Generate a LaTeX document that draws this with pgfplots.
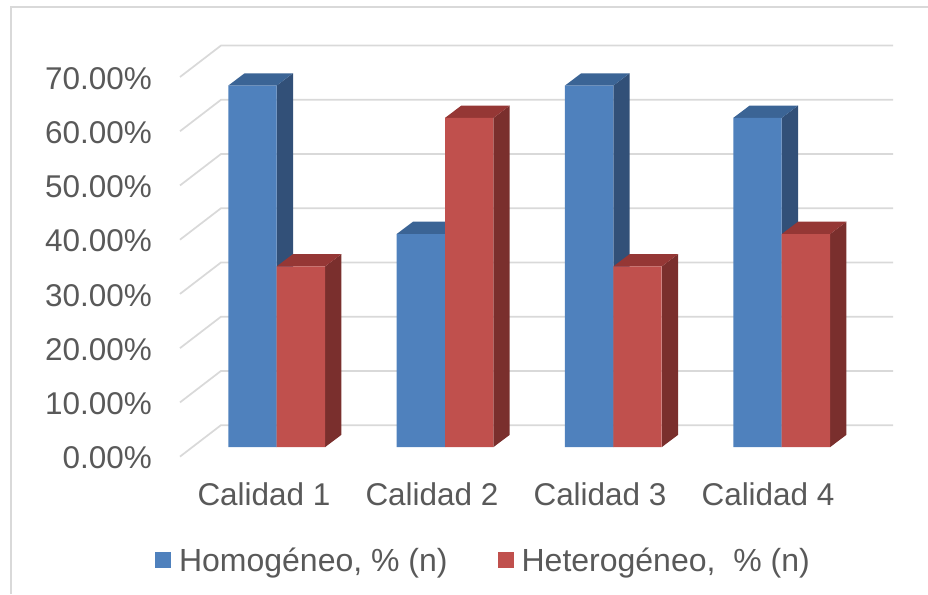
\documentclass[border=0pt]{standalone}
\usepackage{fontspec}
\setmainfont{Liberation Sans}
\usepackage{pgfplots}
\pgfplotsset{compat=1.18}
\definecolor{txt}{HTML}{595959}
\definecolor{grd}{HTML}{D9D9D9}
\definecolor{frm}{HTML}{D9D9D9}
\definecolor{bf}{HTML}{4F81BD}
\definecolor{bs}{HTML}{325078}
\definecolor{bt}{HTML}{3B6495}
\definecolor{rf}{HTML}{C0504D}
\definecolor{rs}{HTML}{7A2F2D}
\definecolor{rt}{HTML}{953735}
% px -> data units
\def\wx{0.28810}   % bar width 48.4 px /168
\def\dx{0.09702}   % bar depth 16.3 px
\def\dy{2.268}     % bar depth 12.3 px
\def\by{1.75}      % bar base rise
% side and top faces: #1 left x, #2 value, #3 side colour, #4 top colour
\newcommand{\barsides}[4]{%
  \addplot[draw=none,fill=#3,forget plot] coordinates {({#1+\wx},\by) ({#1+\wx+\dx},{\by+\dy}) ({#1+\wx+\dx},{#2+\by+\dy}) ({#1+\wx},{#2+\by})} -- cycle;
  \addplot[draw=none,fill=#4,forget plot] coordinates {({#1},{#2+\by}) ({#1+\wx},{#2+\by}) ({#1+\wx+\dx},{#2+\by+\dy}) ({#1+\dx},{#2+\by+\dy})} -- cycle;
}
\begin{document}
\begin{tikzpicture}
\useasboundingbox (0pt,0pt) rectangle (696pt,445.5pt);
\draw[frm,line width=1.3pt] (8.25pt,0pt) -- (8.25pt,440.25pt) -- (696pt,440.25pt);
\begin{axis}[
  at={(135pt,103.05pt)},anchor=south west,
  scale only axis,
  width=534.75pt,height=308.7pt,
  xmin=0.5,xmax=4.744,ymin=0,ymax=75.9,
  clip=false,
  axis line style={draw=none},
  tick style={draw=none},
  xtick={1,2,3,4},
  xticklabels={Calidad 1,Calidad 2,Calidad 3,Calidad 4},
  ytick={0,10,20,30,40,50,60,70},
  yticklabels={0.00\%,10.00\%,20.00\%,30.00\%,40.00\%,50.00\%,60.00\%,70.00\%},
  tick label style={font=\fontsize{23.6}{28}\selectfont,text=txt},
  xticklabel style={anchor=center,yshift=-28.1pt},
  yticklabel style={anchor=east,xshift=-17.5pt,yshift=-1pt},
  legend image code/.code={\fill[#1] (0pt,-12pt) rectangle (12pt,0pt);\path (18pt,0pt);},
  legend columns=2,
  legend style={draw=none,fill=none,font=\fontsize{24}{28}\selectfont,text=txt,
    at={(-0.035,-0.285)},anchor=south west,inner sep=0pt,outer sep=0pt,
    /tikz/every even column/.append style={column sep=37.5pt},
    nodes={inner sep=0pt,anchor=west}},
]
\pgfplotsinvokeforeach{0,10,20,30,40,50,60,70}{
  \addplot[grd,line width=1.3pt,forget plot] coordinates {(0.5,#1) (0.744,{#1+5.8}) (4.744,{#1+5.8})};
}
\barsides{0.7875}{66.67}{bs}{bt}
\barsides{1.7895}{39.29}{bs}{bt}
\barsides{2.7915}{66.67}{bs}{bt}
\barsides{3.7935}{60.71}{bs}{bt}
\addplot[ybar,bar width=36.3pt,bar shift=-18.15pt,xshift=9.5pt,yshift=7.13pt,draw=none,fill=bf] coordinates {(1,66.67) (2.002,39.29) (3.004,66.67) (4.006,60.71)};
\barsides{1.0756}{33.33}{rs}{rt}
\barsides{2.0776}{60.71}{rs}{rt}
\barsides{3.0796}{33.33}{rs}{rt}
\barsides{4.0816}{39.29}{rs}{rt}
\addplot[ybar,bar width=36.3pt,bar shift=18.15pt,xshift=9.5pt,yshift=7.13pt,draw=none,fill=rf] coordinates {(1,33.33) (2.002,60.71) (3.004,33.33) (4.006,39.29)};
\legend{{Homogéneo, \% (n)},{Heterogéneo,~~\% (n)}}
\end{axis}
\end{tikzpicture}
\end{document}
